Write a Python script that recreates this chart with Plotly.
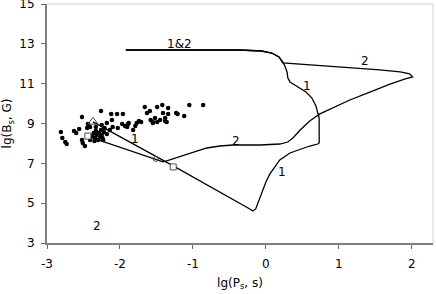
import plotly.graph_objects as go

# Curve 1 (track 1)
c1_x = [-2.37, -1.27, -0.22, -0.18, -0.14, -0.11, -0.07, -0.04, 0.0, 0.055, 0.11, 0.19, 0.33, 0.47, 0.60, 0.71, 0.73,
        0.73, 0.71, 0.685, 0.63, 0.55, 0.44, 0.33, 0.30, 0.29, 0.26, 0.23, 0.18, 0.08, -0.06, -0.36, -0.90, -1.92]
c1_y = [9.08, 6.87, 4.71, 4.61, 4.71, 5.01, 5.36, 5.66, 6.06, 6.47, 6.77, 7.17, 7.52, 7.72, 7.87, 7.97, 8.02,
        9.28, 9.58, 9.88, 10.28, 10.58, 10.83, 11.08, 11.29, 11.59, 11.89, 12.09, 12.34, 12.54, 12.64, 12.69, 12.69, 12.69]

# Curve 2 (track 2)
c2_x = [-2.45, -1.51, -1.41, -1.36, -1.11, -0.81, -0.63, -0.45, -0.08, 0.19, 0.30, 0.37, 0.47, 0.60, 0.74, 0.945,
        1.15, 1.425, 1.70, 1.90, 2.01, 1.97, 1.84, 1.56, 1.15, 0.74, 0.47, 0.23, 0.18, 0.08, -0.06, -0.36, -0.90, -1.92]
c2_y = [8.37, 7.22, 7.07, 7.12, 7.42, 7.77, 7.87, 7.92, 7.92, 7.97, 8.07, 8.27, 8.67, 9.13, 9.48, 9.83,
        10.18, 10.58, 10.98, 11.23, 11.34, 11.49, 11.59, 11.69, 11.79, 11.89, 11.99, 12.04, 12.34, 12.54, 12.64, 12.69, 12.69, 12.69]

# Observed pulsars (scatter)
obs_x = [-2.81, -2.79, -2.75, -2.73, -2.63, -2.60, -2.56, -2.52, -2.52, -2.51, -2.48, -2.45, -2.44, -2.41, -2.41,
         -2.38, -2.36, -2.34, -2.33, -2.32, -2.30, -2.29, -2.27, -2.26, -2.25, -2.23, -2.26, -2.25, -2.21, -2.18,
         -2.14, -2.11, -2.10, -2.04, -2.03, -1.97, -1.96, -1.93, -1.90, -1.89, -1.82, -1.79, -1.77, -1.71, -1.66,
         -1.63, -1.59, -1.58, -1.55, -1.52, -1.49, -1.49, -1.42, -1.41, -1.38, -1.36, -1.34, -1.34, -1.23, -1.21,
         -1.12, -1.05, -0.86, -2.33, -2.22, -2.12, -1.88, -1.74, -1.55, -1.45, -1.38, -2.24, -2.18, -2.35]
obs_y = [8.57, 8.27, 8.07, 7.97, 8.62, 8.52, 8.72, 9.33, 8.17, 8.02, 7.87, 8.78, 8.98, 8.83, 8.17,
         8.37, 8.52, 8.27, 8.62, 8.42, 8.17, 8.52, 8.32, 8.67, 8.42, 8.17, 9.63, 8.93, 8.78, 9.03,
         8.67, 9.18, 8.83, 9.48, 8.78, 8.98, 9.48, 8.88, 8.83, 8.98, 8.67, 8.88, 9.03, 9.08, 9.83,
         9.53, 9.63, 9.18, 9.08, 9.28, 9.08, 9.83, 9.93, 9.53, 9.28, 9.08, 9.78, 9.48, 9.53, 9.48,
         9.38, 9.93, 9.93, 8.83, 8.57, 9.48, 9.03, 9.13, 9.03, 9.18, 9.13, 8.27, 8.47, 8.12]

# Special points
tri_x, tri_y = [-2.37], [9.08]
sq_x, sq_y = [-1.27, -2.44], [6.82, 8.37]
circ_x, circ_y = [-1.51], [7.22]

# Curve labels
lab_text = ["1&2", "2", "1", "2", "1", "1", "2"]
lab_x = [-1.19, 1.36, 0.56, -0.41, -1.79, 0.22, -2.32]
lab_y = [12.99, 12.14, 10.88, 8.12, 8.22, 6.57, 3.86]

x_ticks = [-3, -2, -1, 0, 1, 2]
x_ticktext = ["-3", "-2", "-1", "0", "1", "2"]
y_ticks = [3, 5, 7, 9, 11, 13, 15]

fig = go.Figure()
line_style = dict(color="black", width=1.3)
fig.add_trace(go.Scatter(x=c1_x, y=c1_y, mode="lines", line=line_style, showlegend=False))
fig.add_trace(go.Scatter(x=c2_x, y=c2_y, mode="lines", line=line_style, showlegend=False))
fig.add_trace(go.Scatter(x=obs_x, y=obs_y, mode="markers",
                         marker=dict(color="black", size=4.5), showlegend=False))
fig.add_trace(go.Scatter(x=tri_x, y=tri_y, mode="markers",
                         marker=dict(symbol="triangle-up-open", color="#444", size=9, line=dict(width=1)),
                         showlegend=False))
fig.add_trace(go.Scatter(x=sq_x, y=sq_y, mode="markers",
                         marker=dict(symbol="square", color="white", size=6, line=dict(color="#555", width=1)),
                         showlegend=False))
fig.add_trace(go.Scatter(x=circ_x, y=circ_y, mode="markers",
                         marker=dict(symbol="circle-open", color="#444", size=5, line=dict(width=1)),
                         showlegend=False))

for t, x, y in zip(lab_text, lab_x, lab_y):
    fig.add_annotation(x=x, y=y, text=t, showarrow=False,
                       font=dict(family="DejaVu Sans", size=12, color="black"))

fig.update_xaxes(range=[-3, 2.29], tickvals=x_ticks, ticktext=x_ticktext, ticks="outside", ticklen=4,
                 tickcolor="#666", showline=True, linecolor="#7f7f7f", linewidth=2, showgrid=False,
                 zeroline=False, ticklabelstandoff=5, ticklabeloverflow="allow",
                 title=dict(text="lg(P<sub>s</sub>, s)", standoff=8,
                            font=dict(family="DejaVu Sans", size=12, color="black")),
                 tickfont=dict(family="DejaVu Sans", size=12, color="black"))
fig.update_yaxes(range=[3, 15], tickvals=y_ticks, ticks="outside", ticklen=4, tickcolor="#666",
                 showline=True, linecolor="#7f7f7f", linewidth=2, showgrid=False, zeroline=False,
                 ticklabelstandoff=4, ticklabeloverflow="allow",
                 title=dict(text="lg(B<sub>s</sub>, G)", standoff=6,
                            font=dict(family="DejaVu Sans", size=12, color="black")),
                 tickfont=dict(family="DejaVu Sans", size=12, color="black"))

fig.add_shape(type="line", xref="paper", yref="paper", x0=0, x1=1, y0=1, y1=1,
              line=dict(color="#cfcfcf", width=1))
fig.add_shape(type="line", xref="paper", yref="paper", x0=1, x1=1, y0=0, y1=1,
              line=dict(color="#cfcfcf", width=1))

fig.update_layout(width=436, height=294, margin=dict(l=47, r=3, t=4, b=51, autoexpand=False),
                  plot_bgcolor="white", paper_bgcolor="white",
                  font=dict(family="DejaVu Sans", size=12, color="black"))

fig.write_html("out.html", config={"displayModeBar": False},
               post_script="document.body.style.margin='0px';document.body.style.overflow='hidden';")
